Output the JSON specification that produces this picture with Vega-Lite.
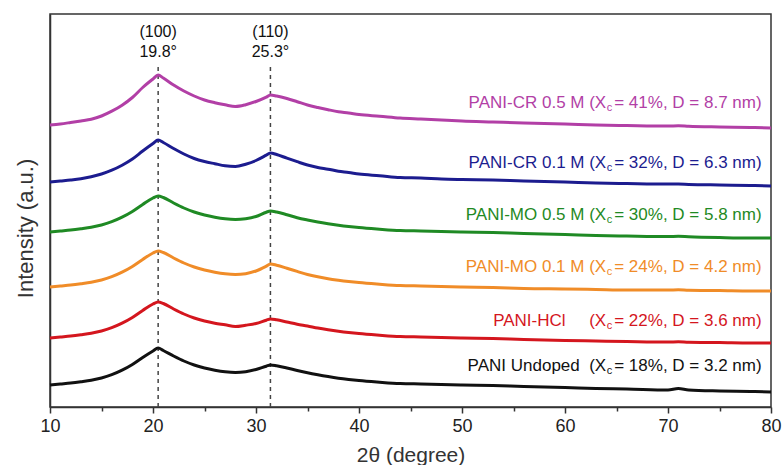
{
  "$schema": "https://vega.github.io/schema/vega-lite/v6.json",
  "autosize": {"type": "none"},
  "padding": {"left": 50, "top": 14, "right": 13, "bottom": 58},
  "width": 721,
  "height": 393,
  "config": {
    "font": "Liberation Sans",
    "view": {"stroke": "#333333", "strokeWidth": 1.5},
    "axis": {"labelFont": "Liberation Sans", "titleFont": "Liberation Sans", "titleFontWeight": "normal"}
  },
  "datasets": {
    "xrd": [
      {"x":10,"undoped":22,"hcl":69,"mo01":120,"mo05":175,"cr01":225,"cr05":282},
      {"x":11,"undoped":23,"hcl":70,"mo01":121,"mo05":176,"cr01":226,"cr05":283},
      {"x":12,"undoped":24,"hcl":71,"mo01":122,"mo05":177,"cr01":227,"cr05":284.5},
      {"x":13,"undoped":25.3,"hcl":72.3,"mo01":123.3,"mo05":178.3,"cr01":228.3,"cr05":286.1},
      {"x":14,"undoped":26.8,"hcl":73.8,"mo01":124.8,"mo05":179.8,"cr01":230.3,"cr05":287.8},
      {"x":15,"undoped":29,"hcl":76,"mo01":127,"mo05":182,"cr01":233,"cr05":291},
      {"x":16,"undoped":32.3,"hcl":79.3,"mo01":130.3,"mo05":185.3,"cr01":236.8,"cr05":295.8},
      {"x":17,"undoped":36.8,"hcl":83.8,"mo01":134.8,"mo05":189.8,"cr01":241.8,"cr05":301.8},
      {"x":18,"undoped":42.5,"hcl":89.5,"mo01":140.5,"mo05":195.5,"cr01":248,"cr05":309.5},
      {"x":19,"undoped":49.5,"hcl":96.5,"mo01":147.5,"mo05":202.5,"cr01":256,"cr05":319.5},
      {"x":20,"undoped":56,"hcl":103,"mo01":154,"mo05":209,"cr01":263.5,"cr05":328},
      {"x":20.5,"undoped":59,"hcl":105,"mo01":156,"mo05":211,"cr01":267,"cr05":332},
      {"x":21,"undoped":56.5,"hcl":103.5,"mo01":154.5,"mo05":209.5,"cr01":264.5,"cr05":329},
      {"x":22,"undoped":51,"hcl":98,"mo01":149,"mo05":204,"cr01":258.5,"cr05":322},
      {"x":23,"undoped":46,"hcl":93,"mo01":144,"mo05":199,"cr01":253,"cr05":316},
      {"x":24,"undoped":42,"hcl":89,"mo01":140,"mo05":195,"cr01":248.5,"cr05":311},
      {"x":25,"undoped":39,"hcl":86,"mo01":137,"mo05":192,"cr01":245.5,"cr05":307},
      {"x":26,"undoped":36.8,"hcl":83.8,"mo01":134.8,"mo05":189.8,"cr01":243.3,"cr05":304.3},
      {"x":27,"undoped":35.2,"hcl":82.2,"mo01":133.2,"mo05":188.2,"cr01":241.2,"cr05":302.2},
      {"x":28,"undoped":34.5,"hcl":80.5,"mo01":132.5,"mo05":187.5,"cr01":240.5,"cr05":300.5},
      {"x":29,"undoped":35.3,"hcl":81.8,"mo01":133.3,"mo05":188.3,"cr01":242.8,"cr05":302.3},
      {"x":30,"undoped":37.5,"hcl":83.5,"mo01":136,"mo05":190.5,"cr01":246.5,"cr05":305.5},
      {"x":31,"undoped":40.8,"hcl":86.8,"mo01":140.8,"mo05":194.8,"cr01":251.8,"cr05":309.8},
      {"x":31.4,"undoped":42,"hcl":88,"mo01":143,"mo05":196,"cr01":254,"cr05":312},
      {"x":32,"undoped":41.2,"hcl":87.2,"mo01":141.8,"mo05":195,"cr01":252.5,"cr05":311},
      {"x":33,"undoped":39,"hcl":85,"mo01":138.8,"mo05":192.3,"cr01":248.8,"cr05":308.5},
      {"x":34,"undoped":36.5,"hcl":82.8,"mo01":135.6,"mo05":189.3,"cr01":245.3,"cr05":305.3},
      {"x":35,"undoped":34.2,"hcl":81,"mo01":132.5,"mo05":187,"cr01":242,"cr05":302},
      {"x":36,"undoped":32.2,"hcl":79,"mo01":130.2,"mo05":185,"cr01":239.5,"cr05":299.5},
      {"x":37,"undoped":30.4,"hcl":77.3,"mo01":128.3,"mo05":183.3,"cr01":237.8,"cr05":297.3},
      {"x":38,"undoped":28.8,"hcl":75.8,"mo01":126.8,"mo05":181.8,"cr01":235.8,"cr05":295.3},
      {"x":39,"undoped":27.5,"hcl":74.5,"mo01":125.5,"mo05":180.5,"cr01":234.5,"cr05":294},
      {"x":40,"undoped":26.4,"hcl":73.4,"mo01":124.4,"mo05":179.4,"cr01":232.9,"cr05":292.4},
      {"x":42,"undoped":24.8,"hcl":71.8,"mo01":122.8,"mo05":177.8,"cr01":231.3,"cr05":290.8},
      {"x":44,"undoped":23.5,"hcl":70.5,"mo01":121.5,"mo05":176.5,"cr01":229.5,"cr05":289},
      {"x":46,"undoped":23,"hcl":70,"mo01":121,"mo05":176,"cr01":229,"cr05":288},
      {"x":48,"undoped":22.5,"hcl":69.5,"mo01":120.5,"mo05":175.5,"cr01":228,"cr05":287},
      {"x":50,"undoped":22,"hcl":69,"mo01":120,"mo05":175,"cr01":227.5,"cr05":286},
      {"x":53,"undoped":21.5,"hcl":68.5,"mo01":119.5,"mo05":174.5,"cr01":227,"cr05":285},
      {"x":56,"undoped":20.5,"hcl":67.5,"mo01":118.5,"mo05":173.5,"cr01":226,"cr05":284},
      {"x":60,"undoped":19.5,"hcl":66.5,"mo01":118,"mo05":172.5,"cr01":225,"cr05":283},
      {"x":63,"undoped":18.5,"hcl":66,"mo01":117.5,"mo05":171.5,"cr01":224,"cr05":282},
      {"x":66,"undoped":18,"hcl":65.5,"mo01":117,"mo05":171,"cr01":223.5,"cr05":281.5},
      {"x":70,"undoped":17,"hcl":65,"mo01":117,"mo05":170.5,"cr01":223,"cr05":281},
      {"x":71,"undoped":18.5,"hcl":65.2,"mo01":117.2,"mo05":170.7,"cr01":223,"cr05":281.2},
      {"x":72,"undoped":17,"hcl":64.8,"mo01":116.8,"mo05":170.3,"cr01":222.6,"cr05":280.7},
      {"x":75,"undoped":16,"hcl":64.5,"mo01":116.5,"mo05":169.5,"cr01":222,"cr05":280},
      {"x":78,"undoped":15.5,"hcl":64,"mo01":116,"mo05":169,"cr01":221.5,"cr05":279.5},
      {"x":80,"undoped":15,"hcl":64,"mo01":116,"mo05":169,"cr01":221,"cr05":279}
    ],
    "labels": [
      {"series":"cr05","x":64.0,"y":304,"part1":"PANI-CR 0.5 M (X","sub":"c","part2":"\u00a0= 41%, D = 8.7 nm)"},
      {"series":"cr01","x":64.0,"y":244,"part1":"PANI-CR 0.1 M (X","sub":"c","part2":"\u00a0= 32%, D = 6.3 nm)"},
      {"series":"mo05","x":64.0,"y":192,"part1":"PANI-MO 0.5 M (X","sub":"c","part2":"\u00a0= 30%, D = 5.8 nm)"},
      {"series":"mo01","x":64.0,"y":140,"part1":"PANI-MO 0.1 M (X","sub":"c","part2":"\u00a0= 24%, D = 4.2 nm)"},
      {"series":"hcl","x":64.0,"y":86,"part1":"PANI-HCl\u00a0\u00a0\u00a0\u00a0\u00a0(X","sub":"c","part2":"\u00a0= 22%, D = 3.6 nm)"},
      {"series":"undoped","x":64.0,"y":41,"part1":"PANI Undoped\u00a0 (X","sub":"c","part2":"\u00a0= 18%, D = 3.2 nm)"}
    ],
    "peaks": [
      {"x":20.5,"y":0,"y2":343},
      {"x":31.4,"y":0,"y2":343}
    ],
    "peaktext": [
      {"x":20.5,"y":375,"t":"(100)"},
      {"x":20.5,"y":355,"t":"19.8°"},
      {"x":31.4,"y":375,"t":"(110)"},
      {"x":31.4,"y":355,"t":"25.3°"}
    ]
  },
  "layer": [
    {
      "data": {"name": "peaks"},
      "mark": {"type": "rule", "strokeDash": [4, 4], "strokeWidth": 1.5, "color": "#444444"},
      "encoding": {
        "x": {"field": "x", "type": "quantitative", "scale": {"domain": [10, 80], "nice": false, "zero": false},
          "axis": {"title": "2θ (degree)", "values": [10,15,20,25,30,35,40,45,50,55,60,65,70,75,80],
            "labelExpr": "datum.value % 10 === 0 ? datum.label : ''",
            "tickSize": {"condition": {"test": "datum.value % 10 === 0", "value": 6}, "value": 4},
            "grid": false, "domainColor": "#333333", "domainWidth": 1.5, "tickColor": "#333333", "tickWidth": 1.5,
            "labelFontSize": 18, "labelColor": "#222222", "labelPadding": 4, "labelFlush": false,
            "titleFontSize": 21, "titleColor": "#333333", "titlePadding": 9}},
        "y": {"field": "y", "type": "quantitative", "scale": {"domain": [0, 393], "nice": false, "zero": false},
          "axis": {"title": "Intensity (a.u.)", "ticks": false, "labels": false, "grid": false,
            "domainColor": "#333333", "domainWidth": 1.5, "titleFontSize": 22, "titleColor": "#333333",
            "titlePadding": 13, "titleY": 214}},
        "y2": {"field": "y2"}
      }
    },
    {
      "data": {"name": "xrd"},
      "transform": [{"fold": ["undoped","hcl","mo01","mo05","cr01","cr05"], "as": ["series","intensity"]}],
      "mark": {"type": "line", "strokeWidth": 3, "interpolate": "monotone"},
      "encoding": {
        "x": {"field": "x", "type": "quantitative"},
        "y": {"field": "intensity", "type": "quantitative"},
        "color": {"field": "series", "type": "nominal", "legend": null,
          "scale": {"domain": ["undoped","hcl","mo01","mo05","cr01","cr05"],
            "range": ["#111111","#d4161e","#f08c28","#1f8a24","#1c1c8f","#b23fa6"]}}
      }
    },
    {
      "data": {"name": "labels"},
      "mark": {"type": "text", "align": "right", "baseline": "middle", "fontSize": 17},
      "encoding": {
        "x": {"field": "x", "type": "quantitative"},
        "y": {"field": "y", "type": "quantitative"},
        "text": {"field": "part1"},
        "color": {"field": "series", "type": "nominal", "legend": null}
      }
    },
    {
      "data": {"name": "labels"},
      "mark": {"type": "text", "align": "left", "baseline": "middle", "fontSize": 11, "dx": 0.5, "dy": 5},
      "encoding": {
        "x": {"field": "x", "type": "quantitative"},
        "y": {"field": "y", "type": "quantitative"},
        "text": {"field": "sub"},
        "color": {"field": "series", "type": "nominal", "legend": null}
      }
    },
    {
      "data": {"name": "labels"},
      "mark": {"type": "text", "align": "left", "baseline": "middle", "fontSize": 17, "dx": 8},
      "encoding": {
        "x": {"field": "x", "type": "quantitative"},
        "y": {"field": "y", "type": "quantitative"},
        "text": {"field": "part2"},
        "color": {"field": "series", "type": "nominal", "legend": null}
      }
    },
    {
      "data": {"name": "peaktext"},
      "mark": {"type": "text", "align": "center", "baseline": "middle", "fontSize": 16, "color": "#111111"},
      "encoding": {
        "x": {"field": "x", "type": "quantitative"},
        "y": {"field": "y", "type": "quantitative"},
        "text": {"field": "t"}
      }
    }
  ]
}
